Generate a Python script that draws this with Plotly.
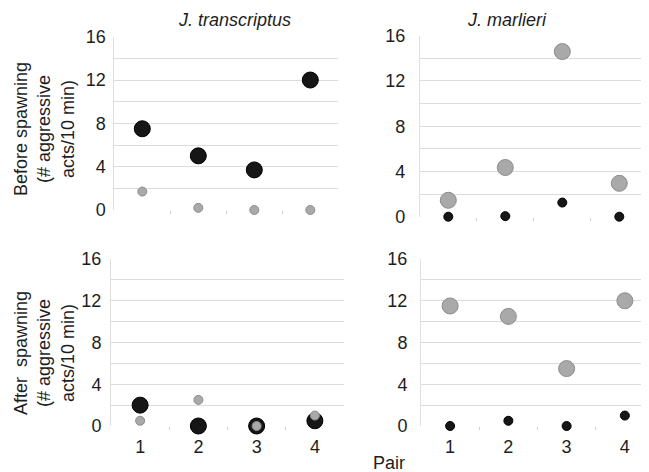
import plotly.graph_objects as go

# ---------------- data ----------------
pairs = [1, 2, 3, 4]
pair_labels = ["1", "2", "3", "4"]
y_ticks = [0, 4, 8, 12, 16]

# J. transcriptus (left column): large black = one fish, small grey = partner
jt_before_black = [7.5, 5.0, 3.7, 12.0]
jt_before_grey = [1.7, 0.2, 0.0, 0.0]
jt_after_black = [2.0, 0.0, 0.0, 0.5]
jt_after_grey = [0.5, 2.5, 0.0, 1.0]

# J. marlieri (right column): large grey, small black
jm_before_grey = [1.45, 4.35, 14.6, 2.95]
jm_before_black = [0.0, 0.05, 1.25, 0.0]
jm_after_grey = [11.5, 10.5, 5.5, 12.0]
jm_after_black = [0.0, 0.5, 0.0, 1.0]

# the page body adds an 8px offset; work in screen pixels and convert
OFF = 8
W, H = 649 - OFF, 472 - OFF
FONT = "Liberation Sans, Arial, Helvetica, sans-serif"
TXT = "#1e1e1e"
GRID = "#dcdcdc"

BLACK = "#161616"
GREY = "#a9a9a9"
GREY_LINE = "#8c8c8c"


def px_x(sx):
    return (sx - OFF) / W


def px_y(sy):
    return 1 - (sy - OFF) / H


def xd(a, b):
    return [max(px_x(a), 0.0), min(px_x(b), 1.0)]


def yd(top, bottom):
    return [px_y(bottom), px_y(top)]


fig = go.Figure()

# panel geometry in screen pixels
panels = {
    1: dict(x=(114.3, 338.3), y=(36.7, 210.0), xr=4.5, lab=False, stand=4),
    2: dict(x=(419.8, 647.8), y=(35.7, 216.7), xr=4.5, lab=False, stand=10),
    3: dict(x=(111.0, 344.0), y=(259.0, 426.0), xr=4.5, lab=True, stand=5),
    4: dict(x=(421.0, 649.0), y=(259.0, 426.0), xr=4.5 - 5 / 58.3, lab=True, stand=9),
}

layout_axes = {}
for i, p in panels.items():
    sx = "" if i == 1 else str(i)
    layout_axes["xaxis" + sx] = dict(
        domain=xd(*p["x"]),
        anchor="y" + sx,
        range=[0.5, p["xr"]],
        automargin=False,
        tickmode="array",
        tickvals=pairs,
        ticktext=pair_labels if p["lab"] else [""] * 4,
        showticklabels=p["lab"],
        showgrid=False,
        zeroline=False,
        showline=False,
        ticks="",
        ticklabelstandoff=8,
        tickfont=dict(family=FONT, size=18, color=TXT),
        minor=dict(tickvals=[1.5, 2.5, 3.5], ticks="outside", ticklen=3,
                   tickcolor="#cfcfcf", tickwidth=1, showgrid=False),
    )
    layout_axes["yaxis" + sx] = dict(
        domain=yd(*p["y"]),
        anchor="x" + sx,
        range=[0, 16],
        automargin=False,
        tickmode="array",
        tickvals=y_ticks,
        ticktext=[str(v) for v in y_ticks],
        showgrid=True,
        gridcolor=GRID,
        gridwidth=1,
        zeroline=False,
        showline=True,
        linecolor="#e0e0e0",
        linewidth=1,
        ticks="",
        ticklabelstandoff=p["stand"],
        tickfont=dict(family=FONT, size=18, color=TXT),
        minor=dict(dtick=2, tick0=0, showgrid=True, gridcolor=GRID, gridwidth=1),
    )


def add(xref, yref, ys, color, line_color, size):
    fig.add_trace(go.Scatter(
        x=pairs, y=ys, mode="markers", xaxis=xref, yaxis=yref,
        marker=dict(size=size, color=color, line=dict(color=line_color, width=1)),
        cliponaxis=False, showlegend=False, hoverinfo="skip",
    ))


# left column: large black under, small grey on top
add("x", "y", jt_before_black, BLACK, "#000000", 16)
add("x", "y", jt_before_grey, GREY, GREY_LINE, 9)
add("x3", "y3", jt_after_black, BLACK, "#000000", 16)
add("x3", "y3", jt_after_grey, GREY, GREY_LINE, 9)
# right column: large grey under, small black on top
add("x2", "y2", jm_before_grey, GREY, GREY_LINE, 16)
add("x2", "y2", jm_before_black, BLACK, "#000000", 9)
add("x4", "y4", jm_after_grey, GREY, GREY_LINE, 16)
add("x4", "y4", jm_after_black, BLACK, "#000000", 9)

ann = []
for text, x, y in [("<i>J. transcriptus</i>", 234, 20),
                   ("<i>J. marlieri</i>", 507, 20),
                   ("Pair", 389, 463)]:
    ann.append(dict(text=text, x=px_x(x), y=px_y(y), xref="paper", yref="paper",
                    xanchor="center", yanchor="middle", showarrow=False,
                    font=dict(family=FONT, size=18, color=TXT)))
for text, y in [("Before spawning<br>(# aggressive<br>acts/10 min)", 129),
                ("After  spawning<br>(# aggressive<br>acts/10 min)", 353)]:
    ann.append(dict(text=text, x=px_x(44), y=px_y(y), xref="paper", yref="paper",
                    xanchor="center", yanchor="middle", textangle=-90, showarrow=False,
                    font=dict(family=FONT, size=18, color=TXT)))

fig.update_layout(
    width=W, height=H,
    margin=dict(l=0, r=0, t=0, b=0, autoexpand=False),
    paper_bgcolor="white", plot_bgcolor="white",
    annotations=ann,
    **layout_axes,
)

fig.write_html("out.html")
